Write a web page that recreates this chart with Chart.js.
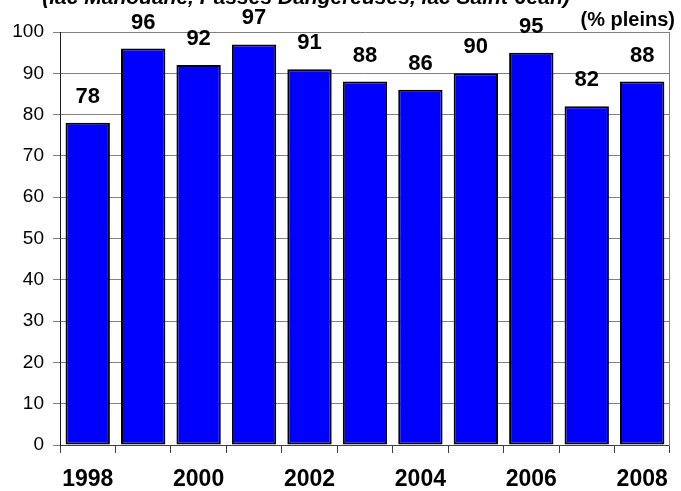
<!DOCTYPE html>
<html lang="fr">
<head>
    <meta charset="UTF-8">
    <title>Taux de remplissage des réservoirs</title>
    <script src="https://cdn.jsdelivr.net/npm/chart.js@4.4.1/dist/chart.umd.min.js"></script>
    <style>
        html, body { margin: 0; padding: 0; background: #fff; }
        #wrap { width: 681px; height: 491px; }
    </style>
</head>
<body>
    <div id="wrap">
        <canvas id="fillChart" width="681" height="491"></canvas>
    </div>

    <script>
        const years = ['1998', '1999', '2000', '2001', '2002', '2003', '2004', '2005', '2006', '2007', '2008'];
        const fillPct = [78, 96, 92, 97, 91, 88, 86, 90, 95, 82, 88];
        const yTicks = [0, 10, 20, 30, 40, 50, 60, 70, 80, 90, 100];
        const titleText = '(lac Manouane, Passes Dangereuses, lac Saint-Jean)';
        const unitText = '(% pleins)';

        const FONT = '"Liberation Sans", Arial, sans-serif';

        // title (cut off at the top in the original) and unit label
        const headerText = {
            id: 'headerText',
            afterDraw(chart) {
                const ctx = chart.ctx;
                ctx.save();
                ctx.fillStyle = '#000';
                ctx.textBaseline = 'alphabetic';
                ctx.font = 'italic bold 21px ' + FONT;
                ctx.textAlign = 'center';
                ctx.fillText(titleText, 306, 4);
                ctx.font = 'bold 20px ' + FONT;
                ctx.textAlign = 'right';
                ctx.fillText(unitText, 675, 26);
                ctx.restore();
            }
        };

        // value labels above each bar
        const valueLabels = {
            id: 'valueLabels',
            afterDatasetsDraw(chart) {
                const ctx = chart.ctx;
                const meta = chart.getDatasetMeta(0);
                ctx.save();
                ctx.fillStyle = '#000';
                ctx.font = 'bold 22px ' + FONT;
                ctx.textAlign = 'center';
                ctx.textBaseline = 'middle';
                meta.data.forEach((bar, i) => {
                    ctx.fillText(String(fillPct[i]), bar.x, bar.y - 26);
                });
                ctx.restore();
            }
        };

        new Chart(document.getElementById('fillChart'), {
            type: 'bar',
            data: {
                labels: years,
                datasets: [{
                    data: fillPct,
                    backgroundColor: '#0000ff',
                    borderColor: '#000',
                    borderWidth: 2,
                    borderSkipped: false,
                    barPercentage: 0.8,
                    categoryPercentage: 1.0
                }]
            },
            options: {
                responsive: false,
                animation: false,
                devicePixelRatio: 1,
                layout: { padding: { top: 32, right: 5, left: 0, bottom: 0 } },
                plugins: {
                    legend: { display: false },
                    title: { display: false },
                    tooltip: { enabled: false }
                },
                scales: {
                    x: {
                        offset: true,
                        grid: {
                            offset: true,
                            drawOnChartArea: false,
                            tickLength: 8,
                            color: '#404040'
                        },
                        border: { color: '#404040', width: 1 },
                        ticks: {
                            autoSkip: false,
                            maxRotation: 0,
                            padding: 13,
                            color: '#000',
                            font: { family: FONT, size: 23, weight: 'bold' },
                            callback: function(value, index) {
                                return index % 2 === 0 ? years[index] : '';
                            }
                        },
                        afterFit: function(scale) { scale.height = 46; }
                    },
                    y: {
                        min: 0,
                        max: 100,
                        afterBuildTicks: function(scale) {
                            scale.ticks = yTicks.map(v => ({ value: v }));
                        },
                        grid: {
                            color: '#808080',
                            lineWidth: 1,
                            tickLength: 7
                        },
                        border: { color: '#202020', width: 1 },
                        ticks: {
                            padding: 9,
                            color: '#000',
                            font: { family: FONT, size: 19 }
                        },
                        afterFit: function(scale) { scale.width = 60; }
                    },
                    y2: {
                        position: 'right',
                        min: 0,
                        max: 100,
                        grid: { drawOnChartArea: false, drawTicks: false },
                        border: { color: '#808080', width: 1 },
                        ticks: { display: false },
                        afterFit: function(scale) { scale.width = 0; }
                    }
                }
            },
            plugins: [headerText, valueLabels]
        });
    </script>
</body>
</html>
